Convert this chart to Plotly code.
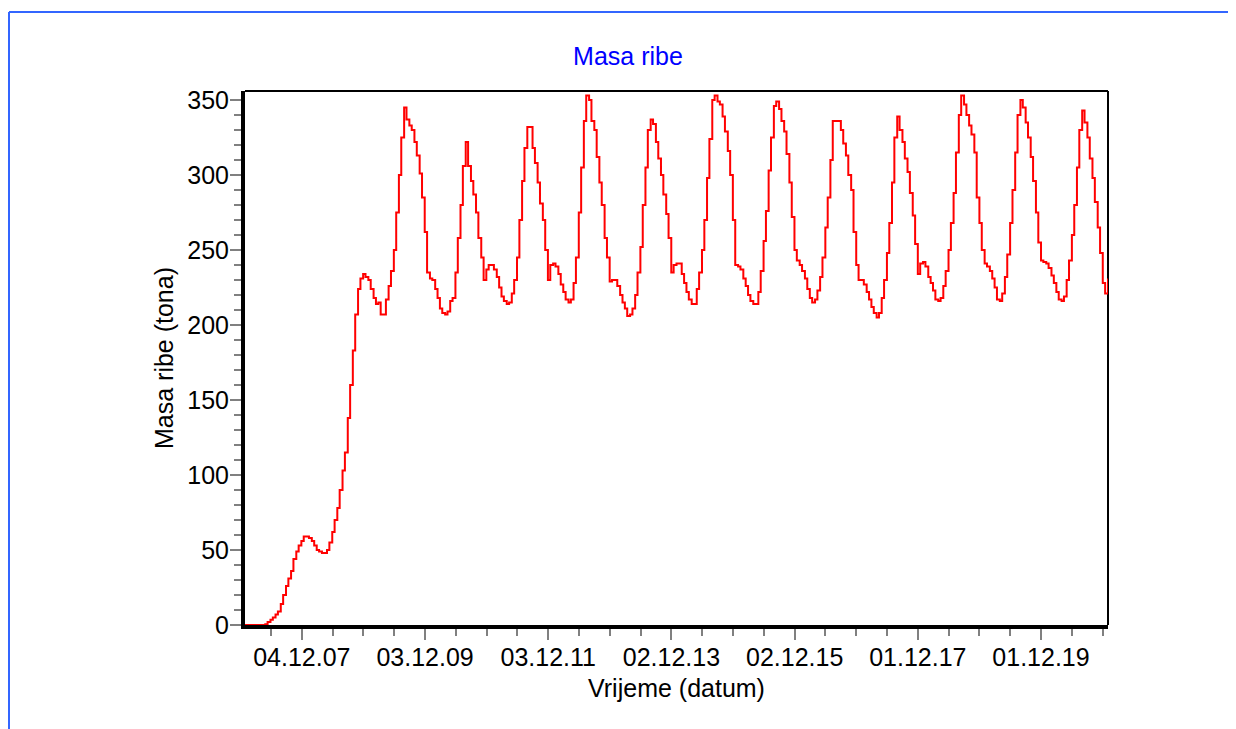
import pandas as pd
import plotly.graph_objects as go

# ---------------- data ----------------
chart_title = "Masa ribe"
x_title = "Vrijeme (datum)"
y_title = "Masa ribe (tona)"

start_date = "2007-01-01"
end_date = "2021-01-01"

tick_dates = ["2007-12-04", "2009-12-03", "2011-12-03", "2013-12-02",
              "2015-12-02", "2017-12-01", "2019-12-01"]
tick_labels = ["04.12.07", "03.12.09", "03.12.11", "02.12.13",
               "02.12.15", "01.12.17", "01.12.19"]

# fish mass (tonnes), half-monthly values (1st and 15th of each month)
m2007 = [0, 0, 0, 0, 0, 0, 0, 0, 0.5, 2, 3.5, 5, 7, 9, 14, 20, 26, 31, 36, 44, 49, 53, 56, 59]
m2008 = [59, 58, 56, 53, 50, 49, 48, 48, 50, 55, 62, 70, 78, 90, 103, 115, 138, 160, 183, 207, 224, 231, 234, 232]
m2009 = [230, 224, 218, 214, 215, 207, 207, 217, 226, 236, 250, 275, 300, 325, 345, 337, 333, 330, 322, 313, 301, 285, 262, 235]
m2010 = [231, 230, 224, 218, 211, 208, 207, 209, 216, 218, 235, 258, 280, 306, 322, 306, 296, 287, 275, 258, 245, 230, 237, 240]
m2011 = [240, 237, 232, 225, 219, 216, 214, 215, 221, 230, 245, 270, 296, 318, 332, 332, 318, 308, 295, 281, 270, 250, 230, 240]
m2012 = [241, 239, 234, 227, 222, 217, 215, 217, 228, 245, 275, 305, 336, 353, 350, 336, 330, 312, 295, 280, 258, 245, 229, 230]
m2013 = [230, 226, 220, 215, 211, 206, 207, 211, 220, 235, 252, 280, 305, 330, 337, 334, 322, 311, 300, 287, 274, 258, 235, 240]
m2014 = [241, 241, 234, 228, 222, 217, 214, 214, 224, 235, 250, 270, 298, 324, 350, 353, 349, 347, 339, 329, 316, 300, 270, 240]
m2015 = [239, 237, 231, 226, 220, 216, 214, 214, 222, 236, 256, 276, 303, 325, 346, 349, 344, 336, 329, 314, 295, 272, 250, 243]
m2016 = [240, 236, 231, 224, 218, 215, 217, 223, 232, 245, 265, 285, 310, 336, 336, 336, 330, 321, 313, 300, 290, 262, 240, 230]
m2017 = [230, 227, 222, 217, 212, 208, 205, 208, 218, 230, 248, 268, 295, 325, 339, 330, 322, 311, 302, 288, 273, 254, 234, 241]
m2018 = [242, 239, 232, 228, 223, 217, 216, 218, 226, 236, 250, 268, 288, 315, 340, 353, 347, 340, 333, 327, 315, 285, 268, 250]
m2019 = [241, 239, 236, 231, 225, 217, 216, 221, 232, 247, 268, 290, 315, 340, 350, 345, 335, 325, 312, 296, 275, 255, 243, 242]
m2020 = [241, 238, 233, 228, 222, 217, 216, 219, 230, 243, 260, 280, 305, 330, 343, 335, 325, 311, 298, 282, 265, 248, 228, 221]
m2021 = [231]

values = (m2007 + m2008 + m2009 + m2010 + m2011 + m2012 + m2013 + m2014 +
          m2015 + m2016 + m2017 + m2018 + m2019 + m2020 + m2021)
dates = pd.date_range(start_date, periods=len(values), freq="SMS")

# minor ticks every half of a year between the labelled ticks
base = pd.Timestamp(tick_dates[0])
minor_dates = [(base + pd.Timedelta(days=182.5 * i)).strftime("%Y-%m-%d %H:%M")
               for i in range(-1, 27) if i % 4 != 0]

# ---------------- figure ----------------
W, H = 1236, 729
L, R, T, B = 237, 136, 83, 112
pw, ph = W - L - R, H - T - B
font_family = "Liberation Sans, Arial, sans-serif"

fig = go.Figure()
fig.add_trace(go.Scatter(
    x=dates, y=values, mode="lines",
    line=dict(color="#FF0000", width=2, shape="hv"),
    hoverinfo="skip", showlegend=False,
))

def px_x(p):
    return (p - L) / pw

def px_y(p):
    return (H - B - p) / ph

shapes = [
    # plot frame (top and right thin lines)
    dict(type="line", xref="paper", yref="paper", x0=0, x1=1, y0=1, y1=1,
         line=dict(color="black", width=2), layer="below"),
    dict(type="line", xref="paper", yref="paper", x0=1, x1=1, y0=0, y1=1,
         line=dict(color="black", width=2), layer="below"),
    # outer blue frame
    dict(type="line", xref="paper", yref="paper", x0=px_x(1), x1=px_x(1),
         y0=px_y(4), y1=px_y(760), line=dict(color="#3366FF", width=2)),
    dict(type="line", xref="paper", yref="paper", x0=px_x(1), x1=px_x(1260),
         y0=px_y(4), y1=px_y(4), line=dict(color="#3366FF", width=2)),
]

fig.update_layout(
    width=W, height=H,
    margin=dict(l=L, r=R, t=T, b=B, pad=0),
    paper_bgcolor="white", plot_bgcolor="white",
    font=dict(family=font_family, size=25, color="black"),
    title=dict(text=chart_title, x=620 / W, xanchor="center",
               y=1 - 48 / H, yanchor="middle", yref="container",
               font=dict(family=font_family, size=25, color="#0000FF")),
    shapes=shapes,
    showlegend=False,
)

fig.update_xaxes(
    type="date", range=[start_date, end_date], autorange=False,
    tickmode="array", tickvals=tick_dates, ticktext=tick_labels,
    ticks="outside", ticklen=11, tickwidth=1.5, tickcolor="#808080",
    ticklabelstandoff=-4,
    tickfont=dict(size=25, family=font_family, color="black"),
    showline=True, linewidth=4, linecolor="black",
    showgrid=False, zeroline=False, layer="below traces",
    minor=dict(tickmode="array", tickvals=minor_dates, ticks="outside",
               ticklen=7, tickwidth=1.5, tickcolor="#808080", showgrid=False),
    title=dict(text=x_title, standoff=10,
               font=dict(size=25, family=font_family, color="black")),
)

fig.update_yaxes(
    range=[0, 356], autorange=False,
    tickmode="linear", tick0=0, dtick=50,
    ticks="outside", ticklen=11, tickwidth=1.5, tickcolor="#808080",
    ticklabelstandoff=-4,
    tickfont=dict(size=25, family=font_family, color="black"),
    showline=True, linewidth=4, linecolor="black",
    showgrid=False, zeroline=False, layer="below traces",
    minor=dict(tick0=0, dtick=10, ticks="outside", ticklen=7,
               tickwidth=1.5, tickcolor="#808080", showgrid=False),
    title=dict(text=y_title, standoff=8,
               font=dict(size=25, family=font_family, color="black")),
)

fig.write_html("out.html")
